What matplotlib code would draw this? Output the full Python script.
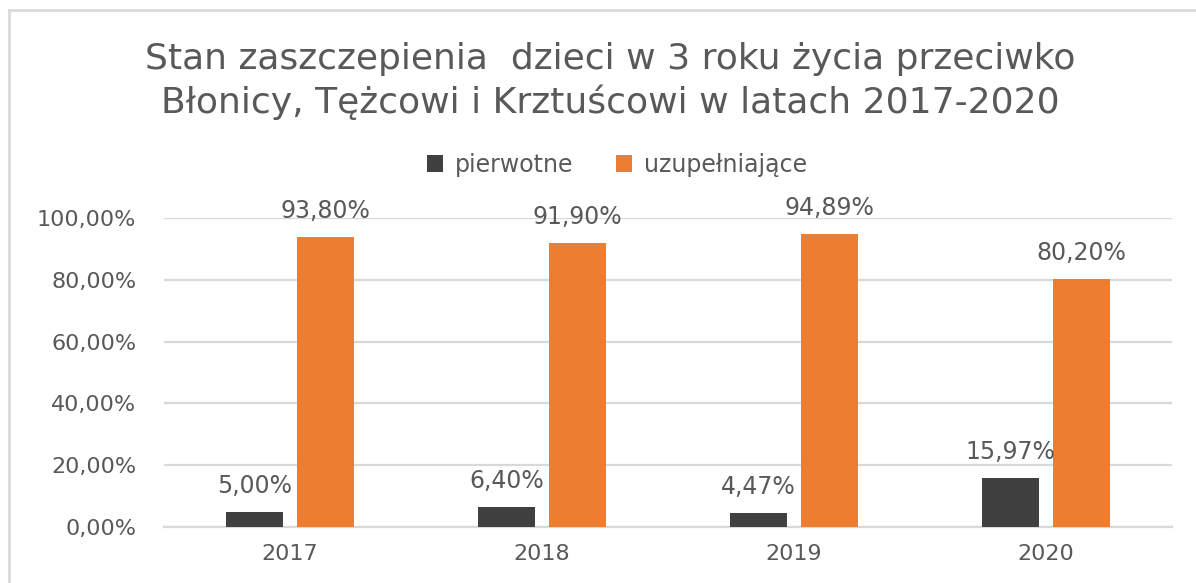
import matplotlib
matplotlib.use("Agg")
import matplotlib.pyplot as plt
from matplotlib.patches import Patch
from matplotlib.lines import Line2D
import numpy as np

years = ["2017", "2018", "2019", "2020"]
pierwotne = [5.00, 6.40, 4.47, 15.97]
uzupelniajace = [93.80, 91.90, 94.89, 80.20]
series_names = ["pierwotne", "uzupełniające"]
yticks = [0, 20, 40, 60, 80, 100]
title = "Stan zaszczepienia  dzieci w 3 roku życia przeciwko\nBłonicy, Tężcowi i Krztuścowi w latach 2017-2020"

C_DARK = "#404040"
C_ORANGE = "#ED7D31"
C_TEXT = "#595959"
C_GRID = "#D9D9D9"

W, H = 1196, 583
fig = plt.figure(figsize=(W / 100, H / 100), dpi=100)
ax = fig.add_axes([164 / W, 1 - 527 / H, (1172 - 164) / W, (527 - 218) / H])

def fmt(v):
    return f"{v:.2f}%".replace(".", ",")

x = np.arange(len(years))
bw = 0.226
off = 0.141
b1 = ax.bar(x - off, pierwotne, bw, color=C_DARK, zorder=3)
b2 = ax.bar(x + off, uzupelniajace, bw, color=C_ORANGE, zorder=3)
for bars in (b1, b2):
    ax.bar_label(bars, labels=[fmt(b.get_height()) for b in bars], padding=10,
                 fontsize=17, color=C_TEXT, family="DejaVu Sans")

ax.set_xlim(-0.5, len(years) - 0.5)
ax.set_ylim(0, 100)
ax.set_yticks(yticks)
ax.set_yticklabels([fmt(v) for v in yticks])
ax.set_xticks(x)
ax.set_xticklabels(years)
ax.tick_params(axis="both", length=0, labelsize=16, labelcolor=C_TEXT)
ax.tick_params(axis="y", pad=20)
ax.tick_params(axis="x", pad=12)
ax.grid(axis="y", color=C_GRID, linewidth=1.6, zorder=0)
for s in ["top", "right", "left"]:
    ax.spines[s].set_visible(False)
ax.spines["bottom"].set_color(C_GRID)
ax.spines["bottom"].set_linewidth(1.6)

fig.text(610 / W, 1 - 81 / H, title, ha="center", va="center", fontsize=26,
         color=C_TEXT, linespacing=1.28, family="DejaVu Sans")

handles = [Patch(facecolor=C_DARK), Patch(facecolor=C_ORANGE)]
leg = fig.legend(handles, series_names, loc="center", bbox_to_anchor=(617 / W, 1 - 165 / H),
                 ncol=2, frameon=False, fontsize=17, handlelength=0.7, handleheight=0.7,
                 handletextpad=0.5, columnspacing=1.8)
for t in leg.get_texts():
    t.set_color(C_TEXT)

# chart border
fig.add_artist(Line2D([9 / W, 9 / W], [0, 1 - 10 / H], transform=fig.transFigure, color=C_GRID, linewidth=2))
fig.add_artist(Line2D([9 / W, 1], [1 - 10 / H, 1 - 10 / H], transform=fig.transFigure, color=C_GRID, linewidth=2))

fig.savefig("out.png", dpi=100)
